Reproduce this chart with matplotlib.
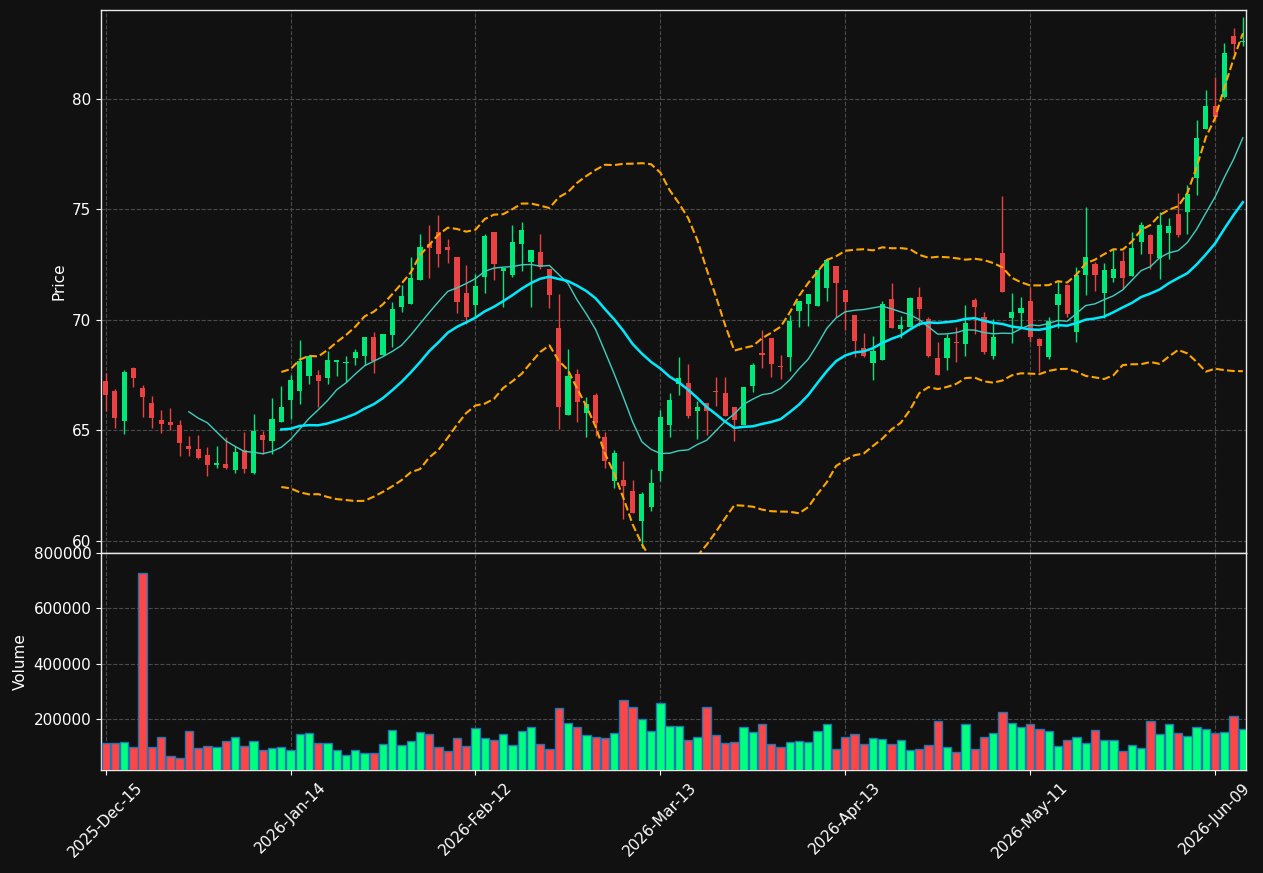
import numpy as np
import pandas as pd
import matplotlib
matplotlib.use("Agg")
import matplotlib.pyplot as plt

# ---------------- data ----------------
tick_labels = ['2025-Dec-15', '2026-Jan-14', '2026-Feb-12', '2026-Mar-13',
               '2026-Apr-13', '2026-May-11', '2026-Jun-09']
tick_index = [0, 20, 40, 60, 80, 100, 120]

opens = [67.23, 66.78, 65.42, 67.82, 66.91, 66.24, 65.47, 65.38, 65.24, 64.29,
         64.15, 63.88, 63.45, 63.48, 63.22, 64.11, 63.08, 64.80, 64.52, 65.38,
         66.36, 66.78, 67.46, 67.49, 67.39, 68.08, 68.06, 68.28, 68.37, 69.23,
         68.40, 69.31, 70.60, 70.72, 71.80, 73.43, 73.99, 73.30, 72.84, 71.21,
         70.67, 71.95, 73.97, 72.22, 72.03, 73.42, 72.63, 73.07, 72.30, 69.65,
         65.69, 67.53, 65.78, 66.62, 64.71, 62.70, 62.77, 62.26, 60.89, 61.52,
         63.15, 65.26, 67.12, 67.15, 65.87, 66.24, 66.76, 66.70, 66.06, 65.26,
         67.00, 68.51, 69.16, 67.93, 68.31, 70.39, 70.74, 70.62, 71.43, 72.46,
         71.37, 70.22, 68.71, 68.06, 68.18, 70.94, 69.59, 69.69, 71.02, 70.02,
         68.26, 68.29, 68.99, 68.92, 70.90, 70.13, 68.38, 73.02, 70.10, 70.32,
         70.85, 69.14, 68.33, 70.67, 71.58, 69.46, 72.03, 72.53, 71.23, 71.91,
         72.66, 72.00, 73.54, 73.84, 72.79, 73.95, 74.78, 74.89, 76.42, 78.62,
         79.70, 80.08, 82.83, 82.56]
highs = [67.58, 66.85, 67.73, 67.85, 67.05, 66.55, 65.92, 65.99, 65.47, 64.74,
         64.79, 64.23, 64.29, 64.71, 64.29, 64.91, 65.74, 64.97, 66.48, 67.02,
         67.52, 69.11, 68.40, 67.75, 68.60, 68.20, 68.35, 68.66, 69.23, 69.44,
         69.38, 70.82, 71.56, 72.83, 73.91, 74.29, 74.74, 73.64, 72.84, 72.47,
         72.07, 73.91, 73.97, 72.35, 74.29, 74.43, 73.16, 73.91, 72.30, 71.18,
         68.66, 67.78, 66.52, 66.70, 64.93, 64.10, 63.60, 62.75, 62.19, 63.23,
         65.94, 66.70, 68.33, 68.01, 66.32, 66.24, 67.42, 67.42, 66.06, 66.97,
         68.05, 69.53, 69.16, 68.40, 70.20, 70.84, 71.15, 72.28, 72.81, 72.46,
         71.37, 70.22, 69.42, 69.27, 70.87, 71.65, 70.17, 71.05, 71.47, 70.14,
         69.01, 69.36, 69.66, 70.66, 70.97, 70.37, 70.02, 75.63, 71.24, 71.02,
         71.50, 69.19, 70.14, 71.80, 71.62, 72.38, 75.09, 72.63, 72.56, 73.19,
         73.11, 73.96, 74.44, 73.88, 74.89, 74.60, 75.74, 76.09, 79.05, 80.41,
         80.98, 82.53, 83.20, 83.71]
lows = [65.89, 65.12, 64.85, 66.97, 65.62, 65.12, 64.89, 65.01, 63.85, 63.85,
        63.72, 62.95, 63.28, 63.26, 63.05, 63.05, 63.01, 63.94, 63.94, 65.38,
        65.53, 66.21, 67.08, 66.06, 67.08, 67.46, 67.19, 67.95, 67.95, 67.60,
        68.40, 68.78, 70.36, 70.72, 71.80, 71.91, 72.38, 72.59, 70.29, 69.81,
        70.07, 71.24, 71.80, 70.57, 71.94, 72.21, 70.57, 72.29, 70.52, 65.04,
        65.69, 65.37, 64.71, 64.73, 63.30, 62.40, 61.00, 61.24, 59.68, 61.34,
        62.70, 64.71, 66.59, 65.57, 64.62, 64.81, 66.09, 65.64, 64.51, 65.26,
        66.74, 67.83, 67.42, 67.33, 67.68, 69.68, 69.71, 70.62, 70.84, 70.14,
        69.56, 68.30, 68.33, 67.28, 68.18, 69.65, 69.16, 69.69, 69.74, 68.33,
        67.52, 67.73, 68.11, 68.38, 69.34, 68.44, 68.21, 71.27, 68.94, 69.62,
        68.98, 67.62, 68.23, 69.62, 70.11, 69.01, 71.12, 71.32, 70.07, 71.70,
        71.42, 72.00, 72.98, 72.29, 71.84, 72.74, 73.76, 73.88, 75.64, 78.62,
        79.02, 80.05, 82.06, 82.41]
closes = [66.60, 65.56, 67.64, 67.38, 66.52, 65.57, 65.30, 65.25, 64.44, 64.15,
          63.75, 63.43, 63.52, 63.31, 64.02, 63.26, 64.97, 64.56, 65.50, 66.04,
          67.27, 68.13, 68.35, 67.24, 68.17, 68.17, 68.09, 68.53, 69.23, 68.14,
          69.35, 70.48, 71.07, 71.89, 73.30, 73.27, 72.98, 73.18, 70.82, 70.14,
          71.53, 73.79, 72.54, 72.35, 73.52, 74.07, 73.16, 72.41, 71.12, 66.05,
          67.48, 66.27, 66.21, 65.32, 63.60, 63.98, 62.50, 61.27, 62.13, 62.62,
          65.61, 66.39, 67.38, 65.67, 66.06, 65.87, 66.73, 65.64, 65.46, 66.97,
          67.98, 68.40, 68.02, 67.86, 69.97, 70.84, 71.15, 72.28, 72.70, 71.67,
          70.80, 69.06, 68.38, 68.59, 70.72, 69.65, 69.77, 70.99, 70.49, 68.38,
          67.52, 69.18, 68.95, 69.84, 70.60, 68.54, 69.22, 71.27, 70.35, 70.55,
          69.24, 68.84, 69.95, 71.17, 70.26, 72.03, 72.83, 72.03, 72.25, 72.30,
          71.91, 73.24, 74.29, 72.97, 74.29, 74.25, 73.83, 75.68, 78.23, 79.70,
          79.20, 82.06, 82.51, 82.63]
volumes = [113500, 113500, 117100, 99100, 727300, 99100, 135100, 66700, 59500, 156800,
           95500, 102700, 99100, 120700, 135100, 102700, 120700, 88300, 95500, 99100,
           88300, 145900, 149500, 113500, 113500, 88300, 70300, 88300, 77500, 77500,
           109900, 160400, 106300, 120700, 153200, 145900, 99100, 84700, 131500, 102700,
           167600, 131500, 124300, 145900, 106300, 156800, 171200, 109900, 91900, 239600,
           185600, 171200, 142300, 135100, 131500, 149500, 268500, 243200, 200000, 156800,
           257700, 174800, 174800, 124300, 135100, 243200, 142300, 113500, 117100, 171200,
           153200, 182000, 109900, 99100, 117100, 120700, 117100, 156800, 182000, 91900,
           135100, 145900, 109900, 131500, 127900, 109900, 124300, 88300, 91900, 106300,
           192800, 99100, 81100, 182000, 91900, 135100, 149500, 225200, 185600, 171200,
           182000, 164000, 156800, 102700, 124300, 135100, 113500, 160400, 124300, 124300,
           84700, 106300, 95500, 192800, 145900, 182000, 149500, 138700, 171200, 164000,
           149500, 153200, 210800, 164000]

# ---------------- styling ----------------
BG = '#111111'
UP_C, DN_C = '#00e87a', '#ea4242'
VUP_C, VDN_C = '#00ff7f', '#ff4545'

o = np.array(opens); h = np.array(highs); l = np.array(lows); c = np.array(closes)
v = np.array(volumes, dtype=float)
x = np.arange(len(c))
up = c >= o

cs = pd.Series(c)
ma10 = cs.rolling(10).mean()
ma20 = cs.rolling(20).mean()
sd20 = cs.rolling(20).std(ddof=0)
bb_up = ma20 + 2 * sd20
bb_dn = ma20 - 2 * sd20

fig = plt.figure(figsize=(12.63, 8.73), dpi=100, facecolor=BG)
axp = fig.add_axes([0.0800, 0.3666, 0.9066, 0.6220])
axv = fig.add_axes([0.0800, 0.1180, 0.9066, 0.2486], sharex=axp)

for ax in (axp, axv):
    ax.set_facecolor(BG)
    for s in ax.spines.values():
        s.set_color('#e8e8e8')
        s.set_linewidth(1.0)
    ax.tick_params(colors='white', labelsize=11)
    ax.grid(True, color='#4a4a4a', linestyle='--', linewidth=0.8)
    ax.set_axisbelow(True)

# candles
body_w = 0.56
axp.vlines(x, l, h, colors=np.where(up, UP_C, DN_C), linewidth=1.0, zorder=2)
body_h = np.maximum(np.abs(c - o), 0.04)
axp.bar(x, body_h, bottom=np.minimum(o, c), width=body_w,
        color=np.where(up, UP_C, DN_C), edgecolor='none', zorder=3)

# overlays
axp.plot(x, ma10, color='#3fcfc0', linewidth=1.0, zorder=4)
axp.plot(x, ma20, color='#00eaff', linewidth=1.8, zorder=4)
axp.plot(x, bb_up, color='#ffa500', linestyle='--', linewidth=1.5, zorder=4)
axp.plot(x, bb_dn, color='#ffa500', linestyle='--', linewidth=1.5, zorder=4)

axp.set_ylim(59.45, 84.03)
axp.set_ylabel('Price', color='white', fontsize=11)
axp.tick_params(axis='x', labelbottom=False)

# volume
axv.bar(x, v, width=0.9, color=np.where(up, VUP_C, VDN_C),
        edgecolor='#1f77b4', linewidth=1.0, zorder=3)
axv.set_ylim(0.3 * v.min(), 1.1 * v.max())
axv.ticklabel_format(axis='y', style='plain', useOffset=False)
axv.set_ylabel('Volume', color='white', fontsize=11)

axv.set_xlim(-0.5, 123.35)
axv.set_xticks(tick_index)
axv.set_xticklabels(tick_labels, rotation=45, fontsize=11)

fig.savefig('out.png', dpi=100, facecolor=BG)
